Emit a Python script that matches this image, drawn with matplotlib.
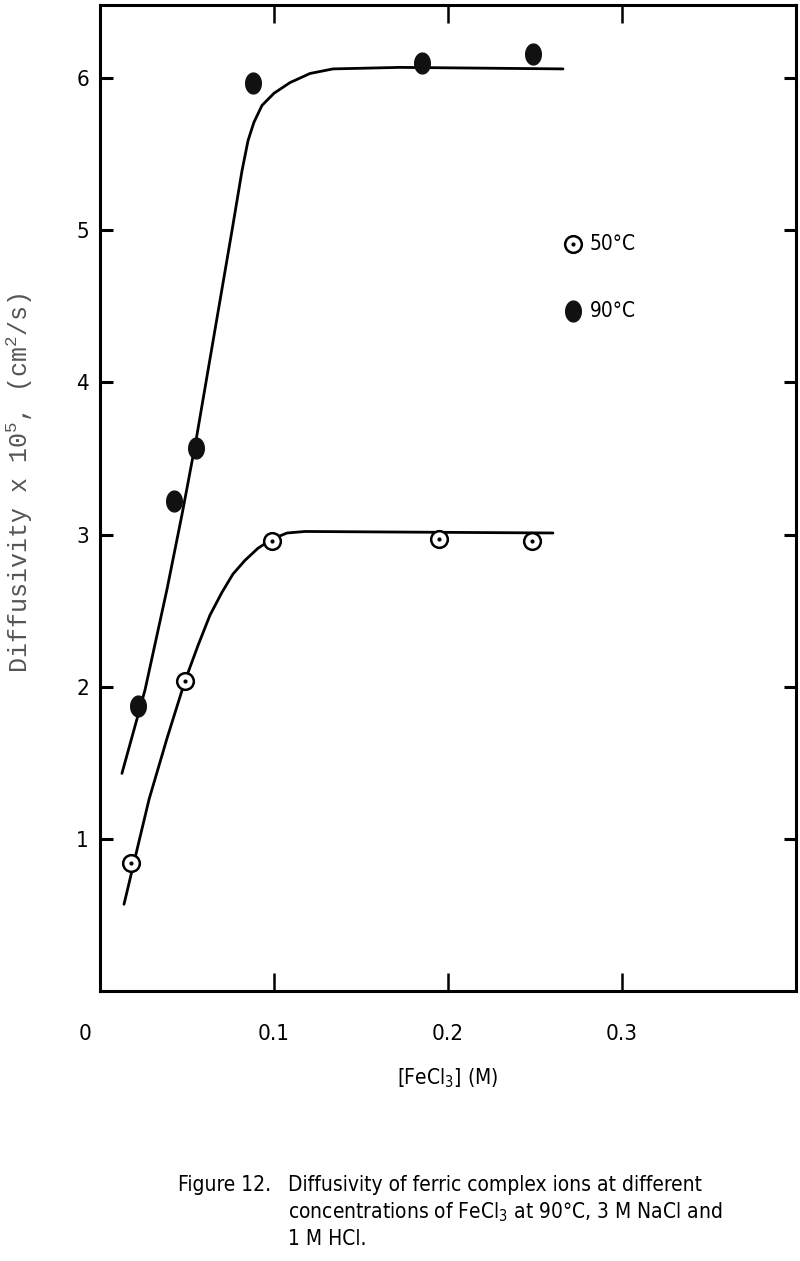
import numpy as np
import matplotlib
matplotlib.use('Agg')
import matplotlib.pyplot as plt
from matplotlib.transforms import ScaledTranslation

# data: [FeCl3] (M) vs diffusivity x 1e5 (cm2/s)
conc_90 = [0.0218, 0.0425, 0.0552, 0.0879, 0.185, 0.249]
diff_90 = [1.87, 3.22, 3.57, 5.97, 6.10, 6.16]

conc_50 = [0.0178, 0.0489, 0.0989, 0.195, 0.248]
diff_50 = [0.84, 2.04, 2.96, 2.97, 2.96]

# hand drawn fit curves
curve90_x = [0.0126, 0.0259, 0.0385, 0.0471, 0.0552, 0.0621, 0.0690, 0.0759, 0.0816,
             0.0851, 0.0885, 0.0931, 0.1000, 0.1092, 0.1207, 0.1339, 0.1724, 0.2661]
curve90_y = [1.43, 1.98, 2.64, 3.13, 3.62, 4.08, 4.54, 5.00, 5.39,
             5.59, 5.71, 5.82, 5.90, 5.97, 6.03, 6.06, 6.07, 6.06]

curve50_x = [0.0138, 0.0213, 0.0282, 0.0385, 0.0489, 0.0563, 0.0632, 0.0701,
             0.0764, 0.0833, 0.0908, 0.0989, 0.1075, 0.1178, 0.2603]
curve50_y = [0.57, 0.93, 1.26, 1.66, 2.04, 2.27, 2.47, 2.62,
             2.74, 2.83, 2.91, 2.97, 3.01, 3.02, 3.01]

xticks = [0, 0.1, 0.2, 0.3]
xtick_labels = ['0', '0.1', '0.2', '0.3']
yticks = [1, 2, 3, 4, 5, 6]

narrow = dict(family='DejaVu Sans', stretch='condensed')
mono = 'Liberation Mono'

plt.rcParams['mathtext.fontset'] = 'custom'
plt.rcParams['mathtext.rm'] = 'DejaVu Sans:stretch=condensed'
plt.rcParams['mathtext.tt'] = mono

fig = plt.figure(figsize=(8, 12.61), dpi=100)
ax = fig.add_axes([100 / 800, 1 - 991 / 1261, 696 / 800, 986 / 1261])

ax.plot(curve90_x, curve90_y, color='black', lw=2.0, solid_capstyle='round')
ax.plot(curve50_x, curve50_y, color='black', lw=2.0, solid_capstyle='round')

# filled oval marker, a bit taller than wide
t = np.linspace(0, 2 * np.pi, 60)
oval = np.column_stack([0.75 * np.cos(t), np.sin(t)])
ax.plot(conc_90, diff_90, ls='none', marker=oval, ms=15, color='#111111')
ax.plot(conc_50, diff_50, ls='none', marker='o', ms=12, mfc='white', mec='black', mew=1.8)
ax.plot(conc_50, diff_50, ls='none', marker='o', ms=2, color='black')

# legend drawn by hand like the original
ax.plot([0.272], [4.91], ls='none', marker='o', ms=12, mfc='white', mec='black', mew=1.8)
ax.plot([0.272], [4.91], ls='none', marker='o', ms=2, color='black')
ax.plot([0.272], [4.47], ls='none', marker=oval, ms=15, color='#111111')
ax.text(0.2815, 4.91, '50°C', fontsize=15, va='center', ha='left', **narrow)
ax.text(0.2815, 4.47, '90°C', fontsize=15, va='center', ha='left', **narrow)

ax.set_xlim(0, 0.4)
ax.set_ylim(0, 6.48)
ax.set_xticks(xticks)
ax.set_xticklabels(xtick_labels)
ax.set_yticks(yticks)

for s in ax.spines.values():
    s.set_linewidth(2.2)

ax.tick_params(axis='x', direction='in', length=13, width=1.8, pad=24,
               labelsize=16, top=True)
ax.tick_params(axis='y', direction='in', length=9, width=2.2, pad=8,
               labelsize=16, right=True)
for lab in ax.get_xticklabels() + ax.get_yticklabels():
    lab.set_family('DejaVu Sans')
    lab.set_stretch('condensed')

# the "0" sits left of the corner
ax.xaxis.get_major_ticks()[0].tick1line.set_visible(False)
ax.xaxis.get_major_ticks()[0].tick2line.set_visible(False)
lab0 = ax.get_xticklabels()[0]
lab0.set_transform(lab0.get_transform() + ScaledTranslation(-15 / 100, 0, fig.dpi_scale_trans))

fig.text(20 / 800, 1 - 483 / 1261,
         'Diffusivity x 10$^{\\mathtt{5}}$, (cm$^{\\mathtt{2}}$/s)',
         rotation=90, fontsize=18, family=mono, color='#555555',
         ha='center', va='center')

fig.text(448 / 800, 1 - 1078 / 1261, '[FeCl$_{\\mathrm{3}}$] (M)',
         fontsize=15, ha='center', va='center', **narrow)

cap = dict(fontsize=15, ha='left', va='baseline', **narrow)
fig.text(178 / 800, 1 - 1191 / 1261, 'Figure 12.', **cap)
fig.text(288 / 800, 1 - 1191 / 1261, 'Diffusivity of ferric complex ions at different', **cap)
fig.text(288 / 800, 1 - 1218 / 1261, 'concentrations of FeCl$_{\\mathrm{3}}$ at 90°C, 3 M NaCl and', **cap)
fig.text(288 / 800, 1 - 1245 / 1261, '1 M HCl.', **cap)

fig.savefig('out.png', dpi=100)
